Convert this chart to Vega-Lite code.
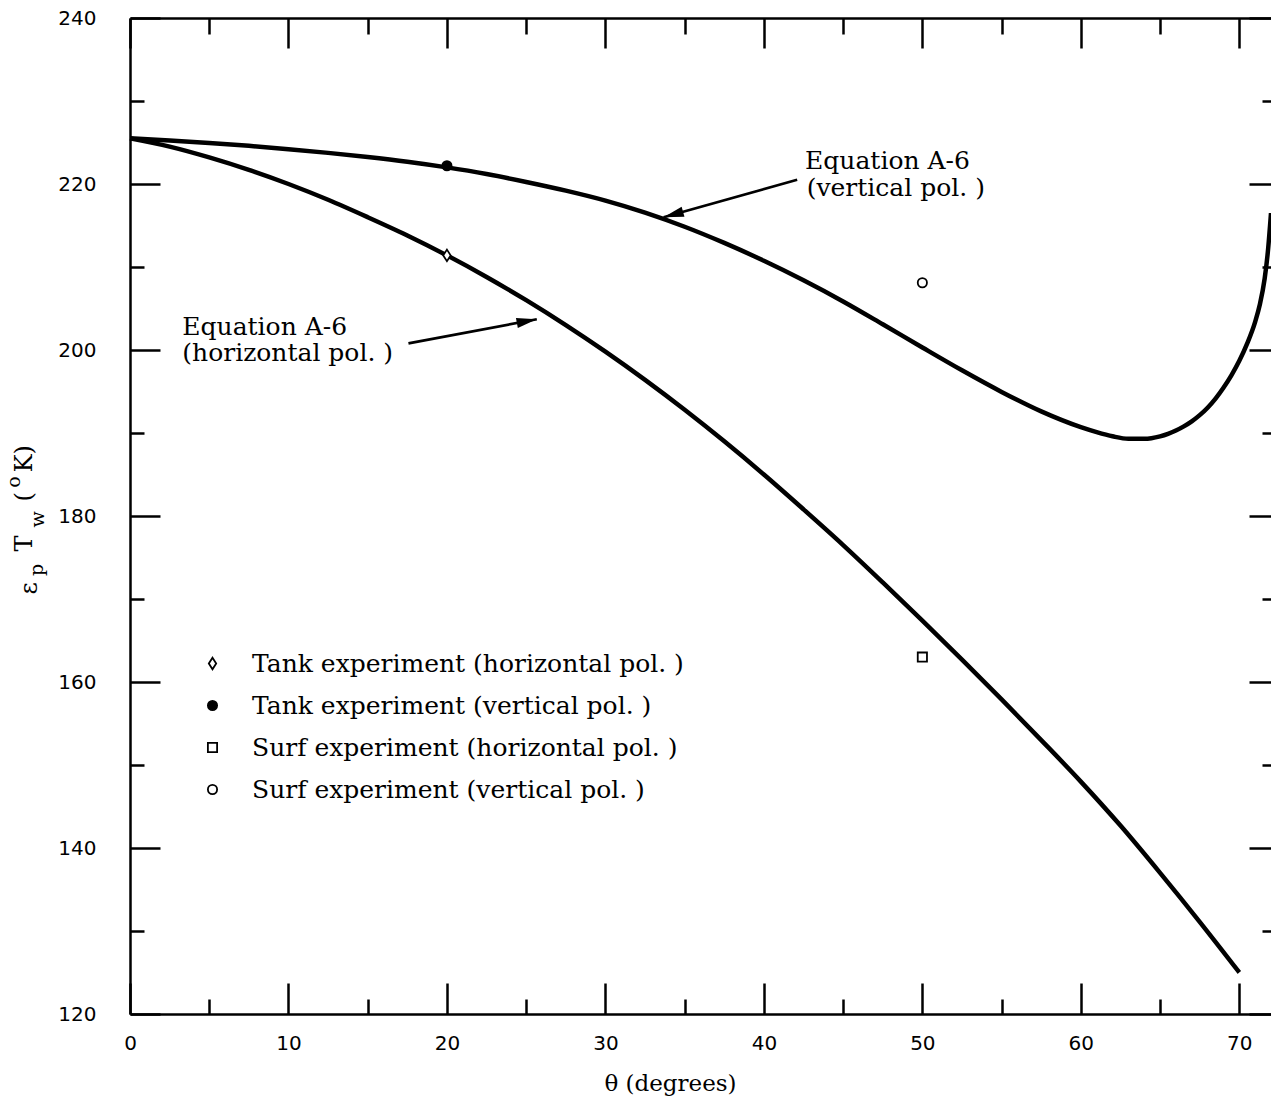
{
  "$schema": "https://vega.github.io/schema/vega-lite/v6.json",
  "width": 1141,
  "height": 996,
  "autosize": {"type": "none"},
  "padding": {"left": 130, "top": 18, "right": 0, "bottom": 87},
  "background": "white",
  "config": {
    "view": {"stroke": null},
    "axis": {
      "grid": false,
      "domainColor": "black",
      "domainWidth": 2.5,
      "tickColor": "black",
      "tickWidth": 2.5,
      "labelColor": "black",
      "labelFont": "DejaVu Sans",
      "labelFontSize": 20
    },
    "text": {"font": "DejaVu Serif", "fontSize": 25, "color": "black"}
  },
  "datasets": {
    "curves": [
      {"curve": "vertical", "x": 0, "y": 225.5},
      {"curve": "vertical", "x": 2.5, "y": 225.25},
      {"curve": "vertical", "x": 5, "y": 224.95},
      {"curve": "vertical", "x": 7.5, "y": 224.6},
      {"curve": "vertical", "x": 10, "y": 224.2},
      {"curve": "vertical", "x": 12.5, "y": 223.75},
      {"curve": "vertical", "x": 15, "y": 223.25},
      {"curve": "vertical", "x": 17.5, "y": 222.68},
      {"curve": "vertical", "x": 20, "y": 222.0},
      {"curve": "vertical", "x": 22.5, "y": 221.2},
      {"curve": "vertical", "x": 25, "y": 220.25},
      {"curve": "vertical", "x": 27.5, "y": 219.2},
      {"curve": "vertical", "x": 30, "y": 218.0},
      {"curve": "vertical", "x": 32.5, "y": 216.55},
      {"curve": "vertical", "x": 35, "y": 214.85},
      {"curve": "vertical", "x": 37.5, "y": 212.9},
      {"curve": "vertical", "x": 40, "y": 210.75},
      {"curve": "vertical", "x": 42.5, "y": 208.4},
      {"curve": "vertical", "x": 45, "y": 205.85},
      {"curve": "vertical", "x": 47.5, "y": 203.1},
      {"curve": "vertical", "x": 50, "y": 200.3},
      {"curve": "vertical", "x": 52.5, "y": 197.55},
      {"curve": "vertical", "x": 55, "y": 194.95},
      {"curve": "vertical", "x": 57.5, "y": 192.6},
      {"curve": "vertical", "x": 60, "y": 190.7},
      {"curve": "vertical", "x": 61, "y": 190.1},
      {"curve": "vertical", "x": 62, "y": 189.6},
      {"curve": "vertical", "x": 63, "y": 189.3},
      {"curve": "vertical", "x": 64, "y": 189.3},
      {"curve": "vertical", "x": 65, "y": 189.6},
      {"curve": "vertical", "x": 65.5, "y": 189.9},
      {"curve": "vertical", "x": 66, "y": 190.3},
      {"curve": "vertical", "x": 66.5, "y": 190.8},
      {"curve": "vertical", "x": 67, "y": 191.4},
      {"curve": "vertical", "x": 67.5, "y": 192.15},
      {"curve": "vertical", "x": 68, "y": 193.05},
      {"curve": "vertical", "x": 68.5, "y": 194.15},
      {"curve": "vertical", "x": 69, "y": 195.45},
      {"curve": "vertical", "x": 69.5, "y": 196.95},
      {"curve": "vertical", "x": 70, "y": 198.7},
      {"curve": "vertical", "x": 70.5, "y": 200.8},
      {"curve": "vertical", "x": 71, "y": 203.4},
      {"curve": "vertical", "x": 71.3, "y": 205.5},
      {"curve": "vertical", "x": 71.6, "y": 208.6},
      {"curve": "vertical", "x": 71.8, "y": 211.8},
      {"curve": "vertical", "x": 72, "y": 216.5},
      {"curve": "horizontal", "x": 0, "y": 225.5},
      {"curve": "horizontal", "x": 2.5, "y": 224.5},
      {"curve": "horizontal", "x": 5, "y": 223.2},
      {"curve": "horizontal", "x": 7.5, "y": 221.7},
      {"curve": "horizontal", "x": 10, "y": 220.0},
      {"curve": "horizontal", "x": 12.5, "y": 218.1},
      {"curve": "horizontal", "x": 15, "y": 216.0},
      {"curve": "horizontal", "x": 17.5, "y": 213.8},
      {"curve": "horizontal", "x": 20, "y": 211.4},
      {"curve": "horizontal", "x": 22.5, "y": 208.8},
      {"curve": "horizontal", "x": 25, "y": 206.0},
      {"curve": "horizontal", "x": 27.5, "y": 203.0},
      {"curve": "horizontal", "x": 30, "y": 199.8},
      {"curve": "horizontal", "x": 32.5, "y": 196.4},
      {"curve": "horizontal", "x": 35, "y": 192.8},
      {"curve": "horizontal", "x": 37.5, "y": 189.0},
      {"curve": "horizontal", "x": 40, "y": 185.0},
      {"curve": "horizontal", "x": 42.5, "y": 180.8},
      {"curve": "horizontal", "x": 45, "y": 176.5},
      {"curve": "horizontal", "x": 47.5, "y": 172.0},
      {"curve": "horizontal", "x": 50, "y": 167.4},
      {"curve": "horizontal", "x": 52.5, "y": 162.7},
      {"curve": "horizontal", "x": 55, "y": 157.9},
      {"curve": "horizontal", "x": 57.5, "y": 153.0},
      {"curve": "horizontal", "x": 60, "y": 148.0},
      {"curve": "horizontal", "x": 62.5, "y": 142.7},
      {"curve": "horizontal", "x": 65, "y": 137.0},
      {"curve": "horizontal", "x": 67.5, "y": 131.1},
      {"curve": "horizontal", "x": 70, "y": 125.0}
    ],
    "experiments": [
      {"series": "Tank experiment (horizontal pol. )", "x": 20, "y": 211.4},
      {"series": "Tank experiment (vertical pol. )", "x": 20, "y": 222.2},
      {"series": "Surf experiment (horizontal pol. )", "x": 50, "y": 163.0},
      {"series": "Surf experiment (vertical pol. )", "x": 50, "y": 208.1}
    ],
    "notes": [
      {"x": 42.6, "y": 222.8, "text": "Equation A-6"},
      {"x": 42.7, "y": 219.5, "text": "(vertical pol. )"},
      {"x": 3.3, "y": 202.8, "text": "Equation A-6"},
      {"x": 3.3, "y": 199.6, "text": "(horizontal pol. )"}
    ],
    "arrows": [
      {"arrow": "vertical", "x": 42.1, "y": 220.5, "x2": 33.67, "y2": 216.0},
      {"arrow": "horizontal", "x": 17.57, "y": 200.8, "x2": 25.67, "y2": 203.7}
    ],
    "yTitleMain": [
      {"x": -6.31, "y": 171.3, "text": "ε"},
      {"x": -6.63, "y": 176.7, "text": "T"},
      {"x": -6.63, "y": 182.3, "text": "("},
      {"x": -6.63, "y": 186.9, "text": "K)"}
    ],
    "yTitleSmall": [
      {"x": -5.87, "y": 173.5, "text": "p"},
      {"x": -5.81, "y": 179.6, "text": "w"},
      {"x": -7.32, "y": 184.1, "text": "o"}
    ]
  },
  "encoding": {
    "x": {"field": "x", "type": "quantitative", "scale": {"domain": [0, 72], "nice": false, "zero": false}, "axis": null},
    "y": {"field": "y", "type": "quantitative", "scale": {"domain": [120, 240], "nice": false, "zero": false}, "axis": null}
  },
  "layer": [
    {
      "data": {"name": "curves"},
      "mark": {"type": "line", "color": "black", "strokeWidth": 4.5, "interpolate": "monotone"},
      "encoding": {
        "x": {
          "field": "x", "type": "quantitative",
          "scale": {"domain": [0, 72], "nice": false, "zero": false},
          "axis": {
            "orient": "bottom",
            "values": [0, 5, 10, 15, 20, 25, 30, 35, 40, 45, 50, 55, 60, 65, 70],
            "tickSize": {"condition": {"test": "datum.value % 10 === 0", "value": -31}, "value": -15},
            "labelExpr": "datum.value % 10 === 0 ? datum.label : ''",
            "labelPadding": 50,
            "labelFlush": false,
            "title": "θ (degrees)",
            "titleFont": "DejaVu Serif",
            "titleFontSize": 23,
            "titleFontWeight": "normal",
            "titleColor": "black",
            "titleX": 540,
            "titleY": 69,
            "titleAlign": "center",
            "titleBaseline": "middle"
          }
        },
        "y": {
          "field": "y", "type": "quantitative",
          "scale": {"domain": [120, 240], "nice": false, "zero": false},
          "axis": {
            "orient": "left",
            "values": [120, 130, 140, 150, 160, 170, 180, 190, 200, 210, 220, 230, 240],
            "tickSize": {"condition": {"test": "datum.value % 20 === 0", "value": -30}, "value": -14},
            "labelExpr": "datum.value % 20 === 0 ? datum.label : ''",
            "labelPadding": 64,
            "labelFlush": false,
            "title": null
          }
        },
        "detail": {"field": "curve"}
      }
    },
    {
      "data": {"name": "experiments"},
      "mark": {"type": "point", "strokeWidth": 1.8, "opacity": 1, "size": 85},
      "encoding": {
        "x": {
          "field": "x", "type": "quantitative",
          "scale": {"domain": [0, 72], "nice": false, "zero": false},
          "axis": {
            "orient": "top",
            "values": [0, 5, 10, 15, 20, 25, 30, 35, 40, 45, 50, 55, 60, 65, 70],
            "tickSize": {"condition": {"test": "datum.value % 10 === 0", "value": -30}, "value": -16},
            "labels": false,
            "title": null
          }
        },
        "y": {
          "field": "y", "type": "quantitative",
          "scale": {"domain": [120, 240], "nice": false, "zero": false},
          "axis": {
            "orient": "right",
            "values": [120, 130, 140, 150, 160, 170, 180, 190, 200, 210, 220, 230, 240],
            "tickSize": {"condition": {"test": "datum.value % 20 === 0", "value": -22}, "value": -9},
            "labels": false,
            "domain": false,
            "title": null
          }
        },
        "shape": {
          "field": "series", "type": "nominal",
          "scale": {
            "domain": ["Tank experiment (horizontal pol. )", "Tank experiment (vertical pol. )", "Surf experiment (horizontal pol. )", "Surf experiment (vertical pol. )"],
            "range": ["M0,-1.25L0.8,0L0,1.25L-0.8,0Z", "circle", "square", "circle"]
          },
          "legend": {
            "orient": "none", "legendX": 70, "legendY": 633, "title": null,
            "labelFont": "DejaVu Serif", "labelFontSize": 25, "labelColor": "black", "labelLimit": 0,
            "labelOffset": 27, "rowPadding": 16, "padding": 0,
            "symbolStrokeWidth": 1.8, "symbolSize": 85
          }
        },
        "fill": {
          "field": "series", "type": "nominal",
          "scale": {
            "domain": ["Tank experiment (horizontal pol. )", "Tank experiment (vertical pol. )", "Surf experiment (horizontal pol. )", "Surf experiment (vertical pol. )"],
            "range": ["white", "black", "white", "white"]
          },
          "legend": {
            "orient": "none", "legendX": 70, "legendY": 633, "title": null,
            "labelFont": "DejaVu Serif", "labelFontSize": 25, "labelColor": "black", "labelLimit": 0,
            "labelOffset": 27, "rowPadding": 16, "padding": 0,
            "symbolStrokeWidth": 1.8, "symbolSize": 85
          }
        },
        "stroke": {
          "field": "series", "type": "nominal",
          "scale": {
            "domain": ["Tank experiment (horizontal pol. )", "Tank experiment (vertical pol. )", "Surf experiment (horizontal pol. )", "Surf experiment (vertical pol. )"],
            "range": ["black", "black", "black", "black"]
          },
          "legend": {
            "orient": "none", "legendX": 70, "legendY": 633, "title": null,
            "labelFont": "DejaVu Serif", "labelFontSize": 25, "labelColor": "black", "labelLimit": 0,
            "labelOffset": 27, "rowPadding": 16, "padding": 0,
            "symbolStrokeWidth": 1.8, "symbolSize": 85
          }
        }
      }
    },
    {
      "data": {"name": "arrows"},
      "mark": {"type": "rule", "color": "black", "strokeWidth": 2.6},
      "encoding": {
        "x2": {"field": "x2"},
        "y2": {"field": "y2"}
      }
    },
    {
      "data": {"name": "arrows"},
      "transform": [{"filter": "datum.arrow === 'vertical'"}],
      "mark": {"type": "point", "shape": "M0,0L-4.5,-1.15L-4.5,1.15Z", "filled": true, "color": "black", "size": 81, "angle": 164.2, "opacity": 1},
      "encoding": {
        "x": {"field": "x2", "type": "quantitative", "scale": {"domain": [0, 72], "nice": false, "zero": false}, "axis": null},
        "y": {"field": "y2", "type": "quantitative", "scale": {"domain": [120, 240], "nice": false, "zero": false}, "axis": null}
      }
    },
    {
      "data": {"name": "arrows"},
      "transform": [{"filter": "datum.arrow === 'horizontal'"}],
      "mark": {"type": "point", "shape": "M0,0L-4.5,-1.15L-4.5,1.15Z", "filled": true, "color": "black", "size": 81, "angle": 349.5, "opacity": 1},
      "encoding": {
        "x": {"field": "x2", "type": "quantitative", "scale": {"domain": [0, 72], "nice": false, "zero": false}, "axis": null},
        "y": {"field": "y2", "type": "quantitative", "scale": {"domain": [120, 240], "nice": false, "zero": false}, "axis": null}
      }
    },
    {
      "data": {"name": "notes"},
      "mark": {"type": "text", "align": "left", "baseline": "middle"},
      "encoding": {"text": {"field": "text"}}
    },
    {
      "data": {"name": "yTitleMain"},
      "mark": {"type": "text", "align": "center", "baseline": "middle", "angle": 270, "fontSize": 24},
      "encoding": {"text": {"field": "text"}}
    },
    {
      "data": {"name": "yTitleSmall"},
      "mark": {"type": "text", "align": "center", "baseline": "middle", "angle": 270, "fontSize": 19},
      "encoding": {"text": {"field": "text"}}
    }
  ],
  "resolve": {"axis": {"x": "independent", "y": "independent"}}
}
